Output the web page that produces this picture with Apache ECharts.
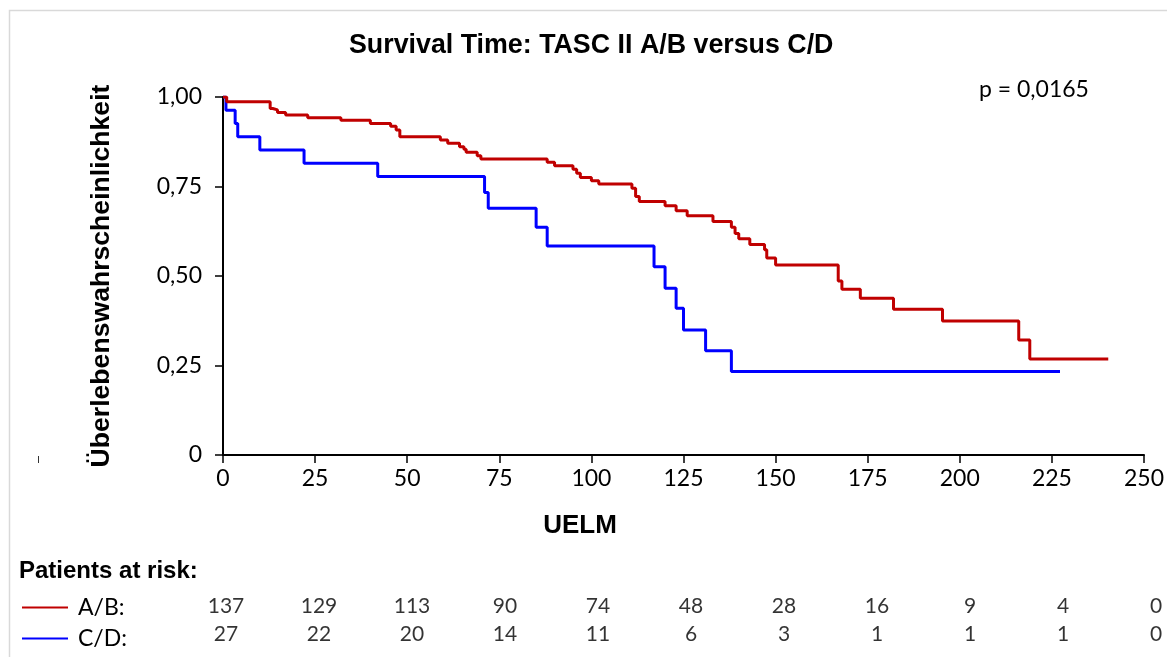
<!DOCTYPE html>
<html>
<head>
<meta charset="utf-8">
<script src="https://cdn.jsdelivr.net/npm/echarts@6/dist/echarts.min.js"></script>
<style>
  html, body { margin: 0; padding: 0; background: #fff; }
  #chart { width: 1167px; height: 657px; }
</style>
</head>
<body>
<div id="chart"></div>
<script>
// Kaplan-Meier estimates: [time, survival probability after the event]
const survivalAB = [
  [0, 1.0], [1, 0.987], [12.8, 0.968], [13.5, 0.964], [14.8, 0.957], [17, 0.95],
  [23, 0.942], [32, 0.935], [40, 0.926], [45.5, 0.918], [47, 0.908], [48, 0.889],
  [59, 0.88], [61, 0.871], [64.2, 0.861], [65.4, 0.854], [66, 0.846], [69, 0.836],
  [70, 0.827], [88, 0.818], [90, 0.808], [95, 0.798], [96, 0.787], [97, 0.775],
  [100, 0.766], [102, 0.757], [111, 0.745], [112, 0.722], [113, 0.708], [120, 0.696],
  [123, 0.682], [126, 0.668], [133, 0.652], [138, 0.636], [139, 0.619], [140, 0.604],
  [143, 0.588], [147, 0.573], [147.6, 0.55], [150, 0.531], [167, 0.486], [168, 0.463],
  [173, 0.438], [182, 0.407], [195.3, 0.374], [216, 0.321], [219, 0.268], [240.3, 0.268]
];
const survivalCD = [
  [0, 1.0], [0.8, 0.963], [3.3, 0.926], [4, 0.889], [10, 0.852], [22, 0.815],
  [42, 0.778], [71, 0.733], [72, 0.689], [85, 0.636], [88, 0.584], [117, 0.526],
  [120, 0.466], [123, 0.41], [125, 0.349], [131, 0.291], [138, 0.233], [227.2, 0.233]
];

// Numbers at risk at each x tick
const riskTimes = [0, 25, 50, 75, 100, 125, 150, 175, 200, 225, 250];
const riskAB = [137, 129, 113, 90, 74, 48, 28, 16, 9, 4, 0];
const riskCD = [27, 22, 20, 14, 11, 6, 3, 1, 1, 1, 0];

const yTickLabels = ['0', '0,25', '0,50', '0,75', '1,00'];
const groupNames = ['A/B', 'C/D'];
const groupColors = ['#c00000', '#0000ff'];

const chart = echarts.init(document.getElementById('chart'), null, { renderer: 'canvas' });

const tickFont = { fontFamily: 'Lato', fontSize: 23, color: '#000' };
const boldFont = 'Liberation Sans';

function riskSeries(name, values, row) {
  return {
    name: name,
    type: 'scatter',
    xAxisIndex: 1,
    yAxisIndex: 1,
    symbolSize: 0,
    silent: true,
    data: riskTimes.map((t, i) => [t, row, values[i]]),
    label: {
      show: true,
      position: 'inside',
      formatter: p => String(p.value[2]),
      fontFamily: 'Lato',
      fontSize: 21,
      color: '#000'
    }
  };
}

chart.setOption({
  animation: false,
  title: {
    text: 'Survival Time: TASC II A/B versus C/D',
    left: 349,
    top: 32,
    padding: 0,
    textStyle: { fontFamily: boldFont, fontSize: 26.8, fontWeight: 'bold', color: '#000' }
  },
  legend: {
    data: groupNames,
    orient: 'vertical',
    left: 22,
    top: 596,
    icon: 'rect',
    itemWidth: 46,
    itemHeight: 2,
    itemGap: 8,
    padding: 0,
    formatter: '{name}:',
    textStyle: { fontFamily: 'Lato', fontSize: 23, color: '#000', lineHeight: 20, padding: [0, 0, 0, 5] }
  },
  grid: [
    { left: 223, right: 23, top: 97, bottom: 202 },
    { left: 226, right: 11, top: 592, height: 56 }
  ],
  xAxis: [
    {
      type: 'value',
      min: 0,
      max: 250,
      interval: 25,
      name: 'UELM',
      nameLocation: 'middle',
      nameGap: 58,
      nameTextStyle: {
        fontFamily: boldFont, fontSize: 26, fontWeight: 'bold', color: '#000',
        padding: [0, 207, 0, 0]
      },
      axisLine: { show: true, onZero: false, lineStyle: { color: '#000', width: 2 } },
      axisTick: { show: true, length: 8, lineStyle: { color: '#000', width: 1.5 } },
      axisLabel: Object.assign({ margin: 12 }, tickFont),
      splitLine: { show: false }
    },
    { type: 'value', gridIndex: 1, min: 0, max: 250, show: false }
  ],
  yAxis: [
    {
      type: 'value',
      min: 0,
      max: 1,
      interval: 0.25,
      name: 'Überlebenswahrscheinlichkeit',
      nameLocation: 'middle',
      nameRotate: 90,
      nameGap: 108,
      nameTextStyle: { fontFamily: boldFont, fontSize: 26.6, fontWeight: 'bold', color: '#000' },
      axisLine: { show: true, lineStyle: { color: '#000', width: 2 } },
      axisTick: { show: true, length: 8, lineStyle: { color: '#000', width: 1.5 } },
      axisLabel: Object.assign({
        margin: 21,
        formatter: v => yTickLabels[Math.round(v / 0.25)]
      }, tickFont),
      splitLine: { show: false }
    },
    { type: 'value', gridIndex: 1, min: 0, max: 1, show: false }
  ],
  series: [
    {
      name: groupNames[0],
      type: 'line',
      step: 'end',
      symbol: 'none',
      data: survivalAB,
      lineStyle: { color: groupColors[0], width: 3 },
      itemStyle: { color: groupColors[0] },
      z: 3
    },
    {
      name: groupNames[1],
      type: 'line',
      step: 'end',
      symbol: 'none',
      data: survivalCD,
      lineStyle: { color: groupColors[1], width: 3 },
      itemStyle: { color: groupColors[1] },
      z: 2
    },
    riskSeries('atRiskAB', riskAB, 0.75),
    riskSeries('atRiskCD', riskCD, 0.25)
  ],
  graphic: [
    {
      type: 'rect',
      silent: true,
      shape: { x: 9.5, y: 10.5, width: 1200, height: 700 },
      style: { fill: 'none', stroke: '#d9d9d9', lineWidth: 1.5 }
    },
    {
      type: 'line',
      silent: true,
      shape: { x1: 38.5, y1: 456, x2: 38.5, y2: 463 },
      style: { stroke: '#333', lineWidth: 1 }
    },
    {
      type: 'text',
      silent: true,
      x: 979,
      y: 90,
      style: { text: 'p = 0,0165', font: '23px Lato', fill: '#000', verticalAlign: 'middle' }
    },
    {
      type: 'text',
      silent: true,
      x: 19,
      y: 571,
      style: { text: 'Patients at risk:', font: 'bold 24px "Liberation Sans"', fill: '#000', verticalAlign: 'middle' }
    }
  ]
});
</script>
</body>
</html>
